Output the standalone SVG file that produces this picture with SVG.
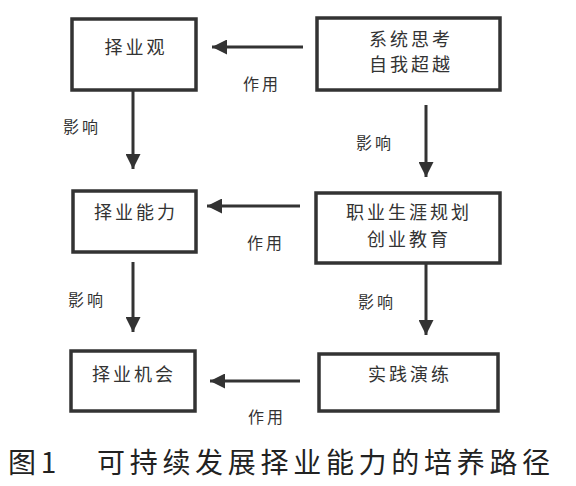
<svg xmlns="http://www.w3.org/2000/svg" width="576" height="486" viewBox="0 0 576 486">
<style>
.box{fill:#fff;stroke:#333;stroke-width:3.5}
.t{font-family:"Noto Sans CJK SC",sans-serif;font-size:18px;fill:#333;text-anchor:middle;letter-spacing:3px}
.l{font-family:"Noto Sans CJK SC",sans-serif;font-size:16px;fill:#333;text-anchor:middle;letter-spacing:3px}
.c{font-family:"Noto Sans CJK SC",sans-serif;font-size:28px;fill:#222;letter-spacing:4.7px}
.ln{stroke:#333;stroke-width:3;fill:none}
</style>
<defs>
<marker id="ah" viewBox="0 0 10 10" refX="10" refY="5" markerWidth="5" markerHeight="5" orient="auto" markerUnits="strokeWidth">
<path d="M0,0 L10,5 L0,10 Z" fill="#333"/>
</marker>
</defs>
<rect width="576" height="486" fill="#fff"/>
<g id="n1"><rect class="box" x="72" y="19" width="124" height="71"/><text class="t" x="136" y="54">择业观</text></g>
<g id="n2"><rect class="box" x="317" y="18" width="183" height="72"/><text class="t" x="411" y="46">系统思考</text><text class="t" x="411" y="71">自我超越</text></g>
<g id="n3"><rect class="box" x="73" y="191" width="123" height="61"/><text class="t" x="136" y="219">择业能力</text></g>
<g id="n4"><rect class="box" x="316" y="193" width="184" height="70"/><text class="t" x="409" y="219">职业生涯规划</text><text class="t" x="409" y="246">创业教育</text></g>
<g id="n5"><rect class="box" x="71" y="351" width="124" height="60"/><text class="t" x="134" y="381">择业机会</text></g>
<g id="n6"><rect class="box" x="319" y="354" width="179" height="57"/><text class="t" x="410" y="381">实践演练</text></g>
<g id="connectors">
<line class="ln" x1="303" y1="47" x2="212" y2="47" marker-end="url(#ah)"/>
<line class="ln" x1="300" y1="206" x2="207" y2="206" marker-end="url(#ah)"/>
<line class="ln" x1="300" y1="381" x2="210" y2="381" marker-end="url(#ah)"/>
<line class="ln" x1="133" y1="90" x2="133" y2="169" marker-end="url(#ah)"/>
<line class="ln" x1="133" y1="262" x2="133" y2="332" marker-end="url(#ah)"/>
<line class="ln" x1="426" y1="105" x2="426" y2="177" marker-end="url(#ah)"/>
<line class="ln" x1="426" y1="263" x2="426" y2="335" marker-end="url(#ah)"/>
<text class="l" x="262" y="90">作用</text>
<text class="l" x="266" y="249">作用</text>
<text class="l" x="267" y="423">作用</text>
<text class="l" x="82" y="133">影响</text>
<text class="l" x="87" y="306">影响</text>
<text class="l" x="375" y="149">影响</text>
<text class="l" x="377" y="308">影响</text>
</g>
<text class="c" x="8" y="473">图1<tspan x="97">可持续发展择业能力的培养路径</tspan></text>
</svg>
